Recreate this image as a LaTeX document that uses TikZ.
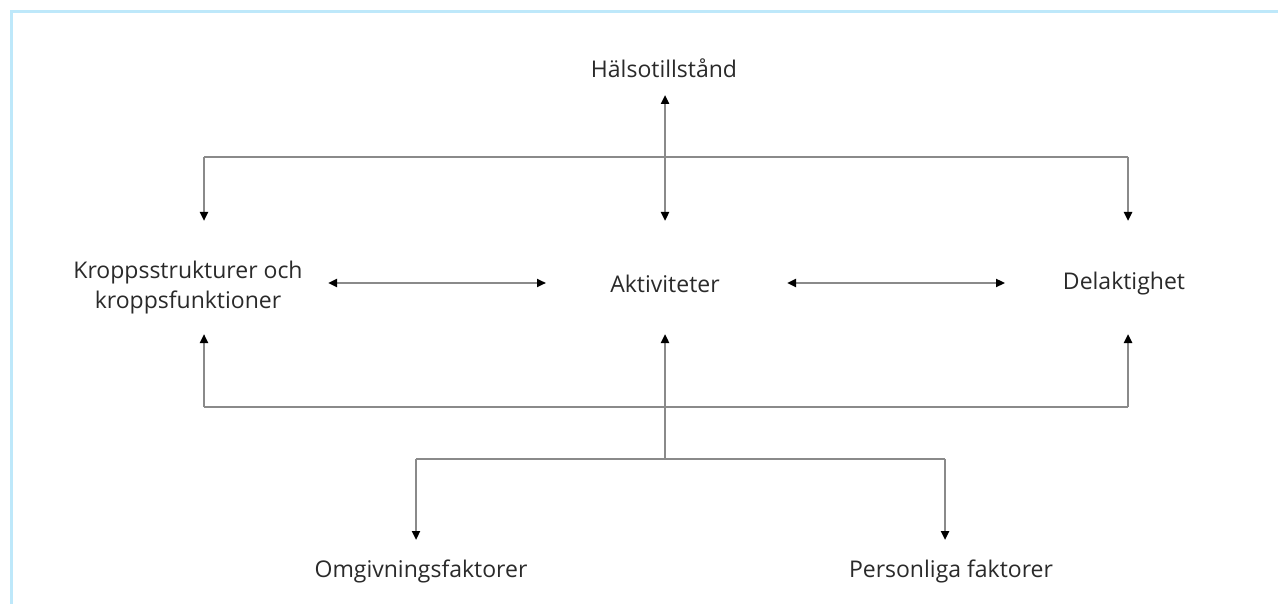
\documentclass[tikz,border=0pt]{standalone}
\usepackage{fontspec}
\setmainfont{Open Sans}
\usetikzlibrary{arrows.meta}
\definecolor{linegray}{HTML}{8A8A8A}
\definecolor{txtgray}{HTML}{2A2A2A}
\definecolor{frameblue}{HTML}{BEE8FA}
\tikzset{
  lbl/.style={font=\fontsize{23}{30}\selectfont, text=txtgray, align=center, inner sep=0pt},
  conn/.style={draw=linegray, line width=2.4pt},
  tip/.style={-{Triangle[width=8pt,length=9pt,color=black]}},
  bitip/.style={{Triangle[width=8pt,length=9pt,color=black]}-{Triangle[width=8pt,length=9pt,color=black]}}
}
\begin{document}
\begin{tikzpicture}[x=1pt,y=-1pt]
\useasboundingbox (0,0) rectangle (1278,604);
\fill[white] (0,0) rectangle (1278,604);
\draw[frameblue, line width=3pt] (11,604) -- (11,12) -- (1278,12);
% text nodes
\node[lbl] (hals) at (664,68) {Hälsotillstånd};
\node[lbl] (kropp) at (188,288) {Kroppsstrukturer och\\kroppsfunktioner};
\node[lbl] (akt) at (665,284) {Aktiviteter};
\node[lbl] (del) at (1124,284) {Delaktighet};
\node[lbl] (omg) at (421,571) {Omgivningsfaktorer};
\node[lbl] (pers) at (951,571) {Personliga faktorer};
% coordinates
\coordinate (hTip) at (665,95);
\coordinate (aTopTip) at (665,221);
\coordinate (tL) at (204,157);
\coordinate (tR) at (1128,157);
\coordinate (kTopTip) at (204,221);
\coordinate (dTopTip) at (1128,221);
\coordinate (kRTip) at (328,283);
\coordinate (aLTip) at (546,283);
\coordinate (aRTip) at (787,283);
\coordinate (dLTip) at (1005,283);
\coordinate (kBotTip) at (204,334);
\coordinate (aBotTip) at (665,334);
\coordinate (dBotTip) at (1128,334);
\coordinate (bL) at (204,407);
\coordinate (bR) at (1128,407);
\coordinate (fM) at (665,459);
\coordinate (fL) at (416,459);
\coordinate (fR) at (945,459);
\coordinate (oTip) at (416,540);
\coordinate (pTip) at (945,540);
% connectors
\draw[conn] (tL) -- (tR);
\draw[conn,bitip] (hTip) -- (aTopTip);
\draw[conn,tip] (tL) -- (kTopTip);
\draw[conn,tip] (tR) -- (dTopTip);
\draw[conn,bitip] (kRTip) -- (aLTip);
\draw[conn,bitip] (aRTip) -- (dLTip);
\draw[conn,tip] (bL) -- (kBotTip);
\draw[conn,tip] (bR) -- (dBotTip);
\draw[conn] (bL) -- (bR);
\draw[conn,tip] (fM) -- (aBotTip);
\draw[conn] (fL) -- (fR);
\draw[conn,tip] (fL) -- (oTip);
\draw[conn,tip] (fR) -- (pTip);
\end{tikzpicture}
\end{document}
